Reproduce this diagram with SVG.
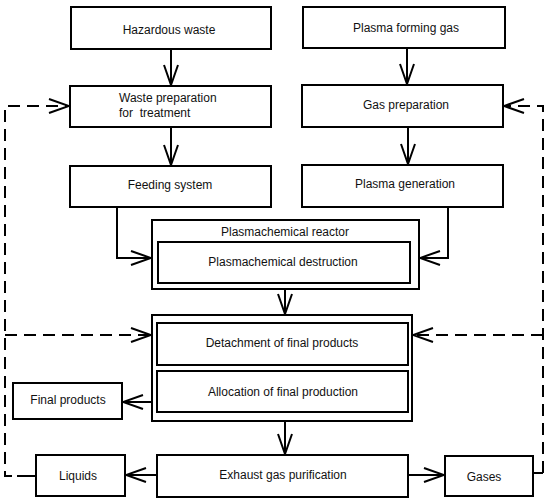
<svg xmlns="http://www.w3.org/2000/svg" width="550" height="502" viewBox="0 0 550 502">
<style>
.box{fill:#fff;stroke:#000;stroke-width:2}
.t{font-family:"Liberation Sans",Arial,sans-serif;font-size:12px;fill:#111;text-anchor:middle}
.tl{font-family:"Liberation Sans",Arial,sans-serif;font-size:12px;fill:#111}
.c{fill:none;stroke:#000;stroke-width:2}
.d{fill:none;stroke:#000;stroke-width:2;stroke-dasharray:12 7}
</style>
<defs>
<marker id="ah" markerUnits="userSpaceOnUse" viewBox="-22 -9 24 18" markerWidth="24" markerHeight="18" refX="0" refY="0" orient="auto">
<path d="M-20,-7 L0,0 L-20,7" fill="none" stroke="#000" stroke-width="2"/>
</marker>
</defs>
<rect width="550" height="502" fill="#fff"/>
<g id="connectors">
<path class="c" d="M171,49 V85" marker-end="url(#ah)"/>
<path class="c" d="M171,127 V165" marker-end="url(#ah)"/>
<path class="c" d="M407,48 V84" marker-end="url(#ah)"/>
<path class="c" d="M408,127 V164" marker-end="url(#ah)"/>
<path class="c" d="M117,207 V258 H151" marker-end="url(#ah)"/>
<path class="c" d="M448,207 V258 H420" marker-end="url(#ah)"/>
<path class="c" d="M285,289 V314" marker-end="url(#ah)"/>
<path class="c" d="M285,421 V454" marker-end="url(#ah)"/>
<path class="c" d="M152,402 H123" marker-end="url(#ah)"/>
<path class="c" d="M157,475 H126" marker-end="url(#ah)"/>
<path class="c" d="M408,475 H444" marker-end="url(#ah)"/>
<path class="c" d="M36,476 H17"/>
<path class="d" d="M12,476 H5 V106 H69" marker-end="url(#ah)"/>
<path class="d" d="M5,335 H151" marker-end="url(#ah)"/>
<path class="c" d="M533,473 H543"/>
<path class="d" d="M543,473 V106 H504" marker-end="url(#ah)"/>
<path class="d" d="M543,335 H413" marker-end="url(#ah)"/>
</g>
<g id="hazardous-waste"><rect class="box" x="71" y="7" width="200" height="42"/><text class="t" x="169" y="34">Hazardous waste</text></g>
<g id="plasma-forming-gas"><rect class="box" x="303" y="7" width="202" height="41"/><text class="t" x="406" y="32">Plasma forming gas</text></g>
<g id="waste-preparation"><rect class="box" x="70" y="86" width="201" height="41"/><text class="tl" x="119" y="102">Waste preparation</text><text class="tl" x="119" y="117" xml:space="preserve">for  treatment</text></g>
<g id="gas-preparation"><rect class="box" x="302" y="85" width="201" height="42"/><text class="t" x="406" y="109">Gas preparation</text></g>
<g id="feeding-system"><rect class="box" x="70" y="166" width="201" height="41"/><text class="t" x="170" y="189">Feeding system</text></g>
<g id="plasma-generation"><rect class="box" x="302" y="165" width="201" height="42"/><text class="t" x="405" y="188">Plasma generation</text></g>
<g id="plasmachemical-reactor"><rect class="box" x="152" y="220" width="267" height="69"/><text class="t" x="285" y="236">Plasmachemical reactor</text>
<g id="plasmachemical-destruction"><rect class="box" x="158" y="242" width="252" height="41"/><text class="t" x="283" y="266">Plasmachemical destruction</text></g></g>
<g id="separation"><rect class="box" x="152" y="315" width="260" height="106"/>
<g id="detachment"><rect class="box" x="157" y="323" width="251" height="42"/><text class="t" x="282" y="347">Detachment of final products</text></g>
<g id="allocation"><rect class="box" x="157" y="371" width="251" height="41"/><text class="t" x="283" y="396">Allocation of final production</text></g></g>
<g id="final-products"><rect class="box" x="13" y="383" width="109" height="36"/><text class="t" x="68" y="404">Final products</text></g>
<g id="liquids"><rect class="box" x="36" y="455" width="89" height="41"/><text class="t" x="78" y="480">Liquids</text></g>
<g id="exhaust-gas-purification"><rect class="box" x="157" y="455" width="251" height="42"/><text class="t" x="283" y="479">Exhaust gas purification</text></g>
<g id="gases"><rect class="box" x="445" y="456" width="88" height="40"/><text class="t" x="484" y="481">Gases</text></g>
</svg>
